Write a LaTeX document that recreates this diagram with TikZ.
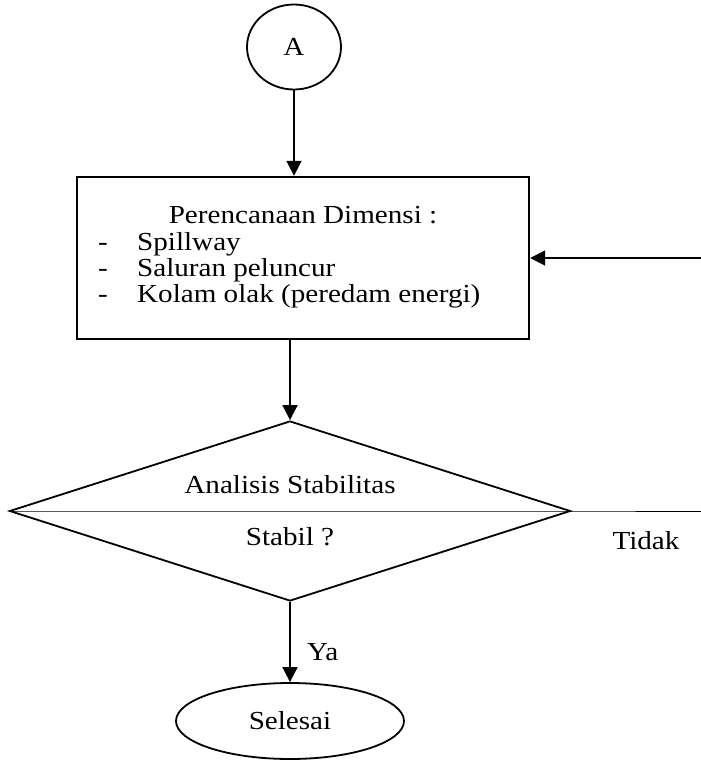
\documentclass[tikz,border=0pt]{standalone}
\usepackage{fontspec}
\setmainfont{Liberation Serif}[FakeStretch=1.12]
\usetikzlibrary{arrows.meta,shapes.geometric}

\begin{document}
\begin{tikzpicture}[x=1pt,y=-1pt,
    garis/.style={draw,line width=1.8pt,inner sep=0pt},
    panah/.style={line width=1.8pt,-{Triangle[length=15pt,width=15pt]}},
    tipis/.style={line width=0.9pt},
    teks/.style={font=\fontsize{26}{26}\selectfont,inner sep=0pt}]
    \useasboundingbox (0,0) rectangle (701,761);

    \node[garis,ellipse,minimum width=94pt,minimum height=85pt,font=\fontsize{26}{26}\selectfont](A)at(294,47){A};

    \node[garis,rectangle,line width=2.4pt,minimum width=452pt,minimum height=162pt](rencana)at(303,258){};
    \node[teks,anchor=base](judul)at(303,223){Perencanaan Dimensi :};
    \node[teks,anchor=base west](daftar)at(98,250){\begin{tabular}[t]{@{}p{39pt}@{}l@{}}
        -&Spillway\\
        -&Saluran peluncur\\
        -&Kolam olak (peredam energi)
    \end{tabular}};

    \node[garis,diamond,minimum width=561pt,minimum height=180pt](uji)at(290,511){};
    \node[teks,anchor=base](analisis)at(290,493){Analisis Stabilitas};
    \node[teks,anchor=base](stabil)at(290,545){Stabil ?};
    \node[teks,anchor=base](tidak)at(646,549){Tidak};

    \node[garis,ellipse,minimum width=228pt,minimum height=76pt,font=\fontsize{26}{26}\selectfont](selesai)at(290,721){Selesai};
    \node[teks,anchor=base west](ya)at(307,660){Ya};

    \coordinate(ujung)at(701,511);
    \coordinate(kembali)at(701,258);

    \draw[panah](A)--(A |- rencana.north);
    \draw[panah](rencana.south -| uji.north)--(uji.north);
    \draw[panah](uji.south)--(selesai);
    \draw[tipis](uji.west)--(uji.east)--(ujung);
    \draw[panah](kembali)--(rencana.east);
\end{tikzpicture}
\end{document}
